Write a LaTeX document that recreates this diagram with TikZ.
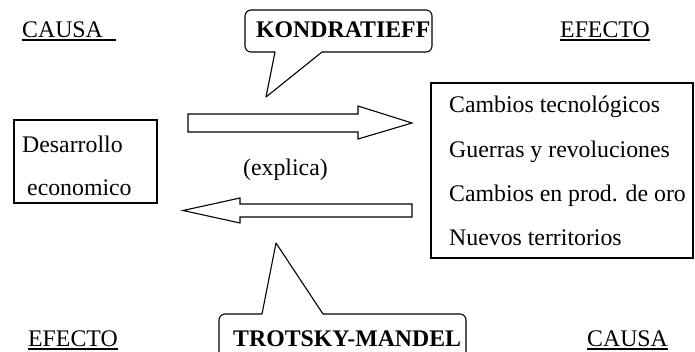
\documentclass[tikz,border=0pt]{standalone}
\usepackage{fontspec}
\setmainfont{Liberation Serif}
\usetikzlibrary{calc}
\begin{document}
\begin{tikzpicture}[x=1pt,y=-1pt,
  txt/.style={inner sep=0pt,anchor=base west,font=\fontsize{23.8}{28}\selectfont},
  btxt/.style={txt,font=\fontsize{23.8}{28}\selectfont\bfseries},
  frame/.style={draw=black,line width=1.1pt},
  uline/.style={draw=black,line width=1.1pt},
  blockarrow/.style={draw=black,line width=1.1pt,fill=white,line join=miter}]
\useasboundingbox (0,0) rectangle (695,351);
% headings
\node[txt] (causa1) at (22,37) {CAUSA};
\draw[uline] (22,40) -- (116,40);
\node[txt] (efecto1) at (560,37) {EFECTO};
\draw[uline] (efecto1.base west)++(0,3) -- ($(efecto1.base east)+(0,3)$);
\node[txt] (efecto2) at (28,346) {EFECTO};
\draw[uline] (efecto2.base west)++(0,3) -- ($(efecto2.base east)+(0,3)$);
\node[txt] (causa2) at (587,346) {CAUSA};
\draw[uline] (causa2.base west)++(0,3) -- ($(causa2.base east)+(0,3)$);
% left box
\draw[frame] (14,120) rectangle (157,203);
\node[txt] (des) at (22,152) {Desarrollo};
\node[txt] (eco) at (27,195) {economico};
% right box
\draw[frame] (431,83) rectangle (693,258);
\node[txt] (r1) at (449,112) {Cambios tecnológicos};
\node[txt] (r2) at (449,157) {Guerras y revoluciones};
\node[txt] (r3) at (449,201) {Cambios en prod. de oro};
\node[txt] (r4) at (449,245) {Nuevos territorios};
% middle label
\node[txt] (expl) at (243,175) {(explica)};
% arrows
\coordinate (a1s) at (188,123);
\coordinate (a1t) at (412,123);
\draw[blockarrow] (188,114) -- (358,114) -- (358,106) -- (a1t) -- (358,139) -- (358,132) -- (188,132) -- cycle;
\coordinate (a2s) at (412,210.5);
\coordinate (a2t) at (183,210.5);
\draw[blockarrow] (412,204) -- (240,204) -- (240,198) -- (a2t) -- (240,223) -- (240,217) -- (412,217) -- cycle;
% Kondratieff callout
\node[btxt] (kon) at (256,37) {KONDRATIEFF};
\fill[white] (432.6,8) rectangle (460,45);
\draw[frame,line join=round] (275,52) -- (266,97) -- (322,52) -- (426,52)
  arc[start angle=90,end angle=0,radius=6] -- (432,16)
  arc[start angle=0,end angle=-90,radius=6] -- (251,10)
  arc[start angle=-90,end angle=-180,radius=6] -- (245,46)
  arc[start angle=180,end angle=90,radius=6] -- cycle;
% Trotsky-Mandel callout
\node[btxt] (tro) at (233,346) {TROTSKY-MANDEL};
\draw[frame,line join=round] (219,360) -- (219,320)
  arc[start angle=180,end angle=270,radius=6] -- (262,314) -- (276,243) -- (323,314) -- (460,314)
  arc[start angle=-90,end angle=0,radius=6] -- (466,360);
\end{tikzpicture}
\end{document}
